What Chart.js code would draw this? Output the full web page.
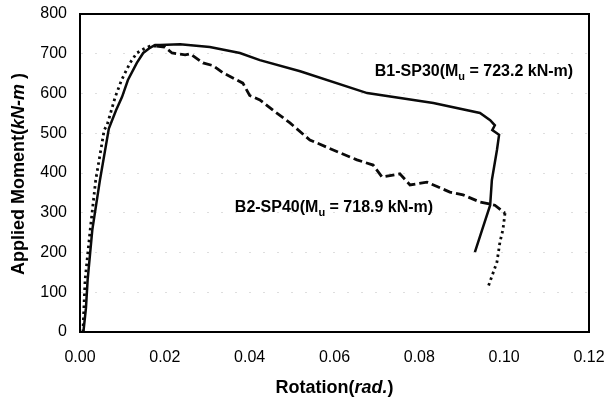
<!DOCTYPE html>
<html>
<head>
<meta charset="utf-8">
<script src="https://cdn.jsdelivr.net/npm/chart.js@4/dist/chart.umd.min.js"></script>
<style>
  html, body { margin: 0; padding: 0; background: #fff; }
  #wrap { width: 608px; height: 401px; position: relative; }
</style>
</head>
<body>
<div id="wrap"><canvas id="c" width="608" height="401"></canvas></div>
<script>
// ---- data ----
const b1Rotation = [0.0008, 0.0014, 0.0018, 0.0029, 0.0047, 0.0068, 0.0085, 0.0099, 0.0113, 0.0134, 0.0149, 0.0165, 0.0177, 0.0189, 0.0236, 0.0306, 0.0377, 0.0424, 0.0519, 0.0677, 0.0833, 0.0943, 0.0967, 0.0978, 0.0972, 0.0988, 0.0983, 0.0971, 0.0967, 0.0948, 0.0931];
const b1Moment   = [0, 60, 131, 257, 382, 512, 558, 591, 634, 677, 702, 715, 722, 722, 724, 717, 702, 684, 656, 601, 576, 551, 533, 520, 508, 496, 458, 382, 319, 257, 201];

const b2Rotation = [0.0007, 0.0008, 0.0012, 0.0024, 0.0037, 0.0057, 0.0064, 0.0083, 0.0098, 0.0118, 0.0134, 0.0150, 0.0165, 0.0180, 0.0200, 0.0217, 0.0248, 0.0260, 0.0290, 0.0314, 0.0337, 0.0384, 0.0400, 0.0424, 0.0455, 0.0495, 0.0542, 0.0597, 0.0653, 0.0691, 0.0712, 0.0754, 0.0778, 0.0818, 0.0872, 0.0903, 0.0943, 0.0978, 0.1002, 0.0997, 0.0990, 0.0983, 0.0962];
const b2Moment   = [0, 30, 131, 257, 382, 508, 521, 591, 634, 677, 702, 712, 719, 719, 717, 702, 697, 700, 677, 670, 652, 626, 595, 584, 558, 526, 483, 458, 433, 420, 390, 398, 370, 377, 352, 345, 327, 319, 299, 257, 226, 176, 113];

const xTicks = [0.00, 0.02, 0.04, 0.06, 0.08, 0.10, 0.12];
const yTicks = [0, 100, 200, 300, 400, 500, 600, 700, 800];

const b1Label = { pre: "B1-SP30(M", sub: "u", post: " = 723.2 kN-m)", x: 0.0695, y: 654 };
const b2Label = { pre: "B2-SP40(M", sub: "u", post: " = 718.9 kN-m)", x: 0.0365, y: 312 };

const FONT = "'Liberation Sans', Arial, Helvetica, sans-serif";

function pts(xs, ys) { return xs.map((x, i) => ({ x: x, y: ys[i] })); }

const b2RiseEnd = 13;   // index where rising (dotted) part ends
const b2TailStart = 38; // index where final dotted drop begins

const decor = {
  id: 'decor',
  afterDraw(chart) {
    const ctx = chart.ctx;
    const a = chart.chartArea;
    const xs = chart.scales.x, ys = chart.scales.y;
    ctx.save();
    // frame
    ctx.strokeStyle = '#000';
    ctx.lineWidth = 2;
    ctx.strokeRect(a.left, a.top, a.right - a.left, a.bottom - a.top);

    // annotations with subscript
    function label(L) {
      const px = xs.getPixelForValue(L.x), py = ys.getPixelForValue(L.y);
      ctx.fillStyle = '#000';
      ctx.textBaseline = 'middle';
      ctx.textAlign = 'left';
      ctx.font = 'bold 16px ' + FONT;
      let x = px;
      ctx.fillText(L.pre, x, py);
      x += ctx.measureText(L.pre).width;
      ctx.font = 'bold 11px ' + FONT;
      ctx.fillText(L.sub, x, py + 5);
      x += ctx.measureText(L.sub).width;
      ctx.font = 'bold 16px ' + FONT;
      ctx.fillText(L.post, x, py);
    }
    label(b1Label);
    label(b2Label);

    // axis titles with italic parts
    function mixed(parts, cx, cy, rot) {
      ctx.save();
      ctx.translate(cx, cy);
      if (rot) ctx.rotate(-Math.PI / 2);
      ctx.textBaseline = 'middle';
      ctx.textAlign = 'left';
      let total = 0;
      parts.forEach(p => { ctx.font = p.f; total += ctx.measureText(p.t).width; });
      let x = -total / 2;
      parts.forEach(p => { ctx.font = p.f; ctx.fillStyle = '#000'; ctx.fillText(p.t, x, 0); x += ctx.measureText(p.t).width; });
      ctx.restore();
    }
    mixed([
      { t: 'Rotation(', f: 'bold 18px ' + FONT },
      { t: 'rad.', f: 'italic bold 18px ' + FONT },
      { t: ')', f: 'bold 18px ' + FONT }
    ], (a.left + a.right) / 2, 388, false);
    mixed([
      { t: 'Applied Moment(', f: 'bold 18px ' + FONT },
      { t: 'kN-m', f: 'italic bold 18px ' + FONT },
      { t: ' )', f: 'bold 18px ' + FONT }
    ], 19, 174, true);
    ctx.restore();
  }
};

new Chart(document.getElementById('c'), {
  type: 'scatter',
  data: {
    datasets: [
      {
        label: 'B1-SP30',
        data: pts(b1Rotation, b1Moment),
        showLine: true,
        borderColor: '#0a0a0a',
        borderWidth: 2.5,
        pointRadius: 0,
        tension: 0
      },
      {
        label: 'B2-SP40',
        data: pts(b2Rotation, b2Moment),
        showLine: true,
        borderColor: '#0a0a0a',
        borderWidth: 2.8,
        pointRadius: 0,
        tension: 0,
        segment: {
          borderDash: c => (c.p0DataIndex < b2RiseEnd || c.p0DataIndex >= b2TailStart) ? [2.5, 3.5] : [9, 4]
        }
      }
    ]
  },
  options: {
    responsive: false,
    animation: false,
    devicePixelRatio: 1,
    layout: { padding: { left: 0, top: 14, right: 19, bottom: 0 } },
    plugins: { legend: { display: false }, tooltip: { enabled: false } },
    scales: {
      x: {
        type: 'linear',
        min: 0, max: 0.12,
        afterFit: s => { s.height = 69; s.paddingLeft = 0; s.paddingRight = 0; },
        afterBuildTicks: s => { s.ticks = xTicks.map(v => ({ value: v })); },
        grid: { display: false, drawTicks: false },
        border: { display: true, color: '#000', width: 2 },
        ticks: {
          padding: 16,
          color: '#000',
          maxRotation: 0,
          font: { family: FONT, size: 16 },
          callback: v => v.toFixed(2)
        }
      },
      y: {
        type: 'linear',
        min: 0, max: 800,
        afterFit: s => { s.width = 80; s.paddingTop = 0; s.paddingBottom = 0; },
        afterBuildTicks: s => { s.ticks = yTicks.map(v => ({ value: v })); },
        grid: { display: true, drawTicks: false, color: 'rgba(0,0,0,0.13)', lineWidth: 1 },
        border: { display: true, color: '#000', width: 2, dash: [2, 12] },
        ticks: {
          padding: 13,
          color: '#000',
          font: { family: FONT, size: 16 },
          callback: v => String(v)
        }
      }
    }
  },
  plugins: [decor]
});
</script>
</body>
</html>
